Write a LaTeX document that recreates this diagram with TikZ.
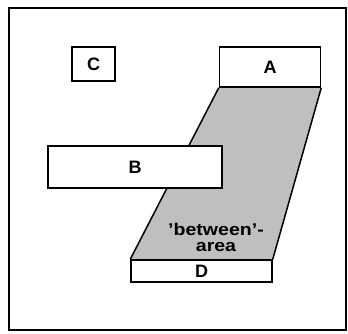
\documentclass[tikz,border=0pt]{standalone}
\usepackage{fontspec}
\setmainfont{Liberation Sans}
\usetikzlibrary{backgrounds}
\begin{document}
\begin{tikzpicture}[x=1pt,y=-1pt,
  box/.style={draw=black,line width=1.5pt,fill=white,inner sep=0pt,font=\fontsize{18}{18}\selectfont\bfseries},
  edge/.style={line width=1.5pt}]
\useasboundingbox (0,0) rectangle (348,333);
\draw[line width=2pt] (9,8) rectangle (346,330);
\node[box,minimum width=101pt,minimum height=40pt] (A) at (270,67) {A};
\node[box,minimum width=141pt,minimum height=22pt] (D) at (201.5,271) {D};
\node[box,minimum width=43pt,minimum height=34pt] (C) at (93.5,64) {C};
\node[font=\fontsize{17}{17}\selectfont\bfseries,align=center,inner sep=0pt] (T) at (216,237) {\scalebox{1.15}[1]{'between'-}\\[-1pt]\scalebox{1.15}[1]{area}};
\begin{scope}[on background layer]
\fill[gray!50] (A.south west) -- (A.south east) -- (D.north east) -- (D.north west) -- cycle;
\draw[edge] (A.south west) -- (D.north west);
\draw[edge] (A.south east) -- (D.north east);
\end{scope}
\node[box,minimum width=174pt,minimum height=42pt] (B) at (135,167) {B};
\end{tikzpicture}
\end{document}
